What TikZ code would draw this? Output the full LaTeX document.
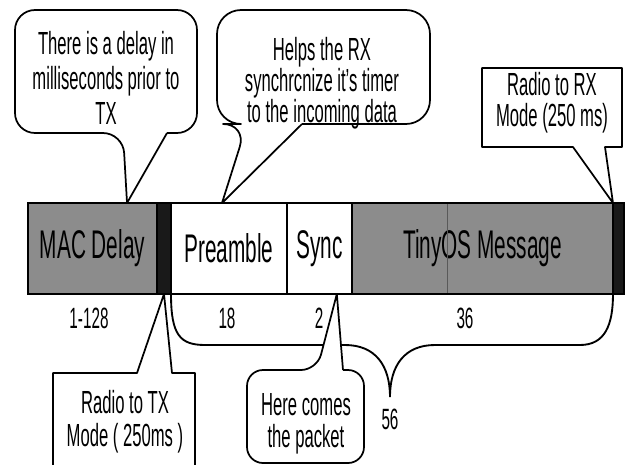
\documentclass[tikz,border=0pt]{standalone}
\usepackage{fontspec}
\setmainfont{Liberation Sans}[FakeStretch=0.52]
\usetikzlibrary{positioning}

\tikzset{
    field/.style={draw=black, line width=1.1pt, inner sep=0pt, outer sep=0pt,
        minimum height=68.25pt, font=\fontsize{30}{32}\selectfont},
    grayfield/.style={field, fill=black!45},
    darkfield/.style={field, fill=black!90},
    plainfield/.style={field, fill=white},
    bubble/.style={draw=black, line width=1.3pt, fill=white, line join=round},
    note/.style={align=center, inner sep=0pt, font=\fontsize{24}{26}\selectfont},
    count/.style={inner sep=0pt, font=\fontsize{22}{24}\selectfont},
    brace/.style={draw=black, line width=1.4pt},
}

\begin{document}
\begin{tikzpicture}[x=0.75pt, y=-0.75pt]
    % Page frame, one unit is one pixel, y grows downwards
    \clip (0,0) rectangle (637,465);
    \fill[white] (0,0) rectangle (637,465);

    % The packet fields
    \node[grayfield, minimum width=96.75pt] (mac) at (92.5,248.5) {MAC Delay};
    \node[darkfield, minimum width=10.5pt, right=0pt of mac] (txon) {};
    \node[plainfield, minimum width=87pt, right=0pt of txon] (pre) {Preamble};
    \node[plainfield, minimum width=48.75pt, right=0pt of pre] (sync) {Sync};
    \node[grayfield, minimum width=195.75pt, right=0pt of sync] (msg) {TinyOS Message};
    \node[darkfield, minimum width=8.25pt, right=0pt of msg] (rxon) {};
    \draw[black!65, line width=0.6pt] (447,204) -- (447,293);

    % Byte counts under the fields
    \node[count] (n1) at (89,318) {1-128};
    \node[count] (n2) at (227,318) {18};
    \node[count] (n3) at (319,318) {2};
    \node[count] (n4) at (465,318) {36};

    % Brace over preamble, sync and message
    \coordinate (bracetip) at (390,397);
    \draw[brace] (txon.south east) .. controls (171,335) and (180,345) .. (205,345)
        -- (345,345) .. controls (375,345) and (390,365) .. (bracetip)
        .. controls (390,365) and (405,345) .. (435,345)
        -- (580,345) .. controls (605,345) and (613,325) .. (rxon.south west);
    \node[count, below=9pt of bracetip] (total) {56};

    % Callout tips on the fields
    \coordinate (delaytip) at ([xshift=25.9pt]mac.north);
    \coordinate (synctip) at ([xshift=-5.25pt]pre.north);
    \coordinate (rxtip) at (rxon.north west);
    \coordinate (txtip) at (txon.south);
    \coordinate (pkttip) at ([xshift=13pt]sync.south);

    % Callouts above the fields
    \draw[bubble, rounded corners=15pt] (167,133) -- (197,133) -- (197,10) -- (15,10)
        -- (15,133) -- (123,133) [sharp corners] -- (delaytip) -- (167,133);
    \node[note] (delaynote) at (106,78) {There is a delay in\\milliseconds prior to\\TX};

    \draw[bubble, rounded corners=18pt] (302,124) -- (430,124) -- (430,10) -- (217,10)
        -- (217,124) -- (247,124) [sharp corners] -- (synctip) -- (302,124);
    \node[note, font=\fontsize{24}{21}\selectfont] (syncnote) at (322,83)
        {Helps the RX\\synchrcnize it’s timer\\to the incoming data};

    \draw[bubble] (605,147) -- (622,147) -- (622,68) -- (482,68) -- (482,147)
        -- (573,147) -- (rxtip) -- cycle;
    \node[note, font=\fontsize{24}{23}\selectfont] (rxnote) at (552,103) {Radio to RX\\Mode (250 ms)};

    % Callouts below the fields
    \draw[bubble] (195,475) -- (195,373) -- (172,373) -- (txtip) -- (137,373)
        -- (53,373) -- (53,475);
    \node[note, font=\fontsize{24}{25}\selectfont] (txnote) at (125,422) {Radio to TX\\Mode ( 250ms )};

    \draw[bubble, rounded corners=12pt] (343,370) -- (364,370) -- (364,463) -- (247,463)
        -- (247,370) -- (317,370) [sharp corners] -- (pkttip) -- (343,370);
    \node[note, font=\fontsize{24}{24}\selectfont] (pktnote) at (306,424) {Here comes\\the packet};
\end{tikzpicture}
\end{document}
